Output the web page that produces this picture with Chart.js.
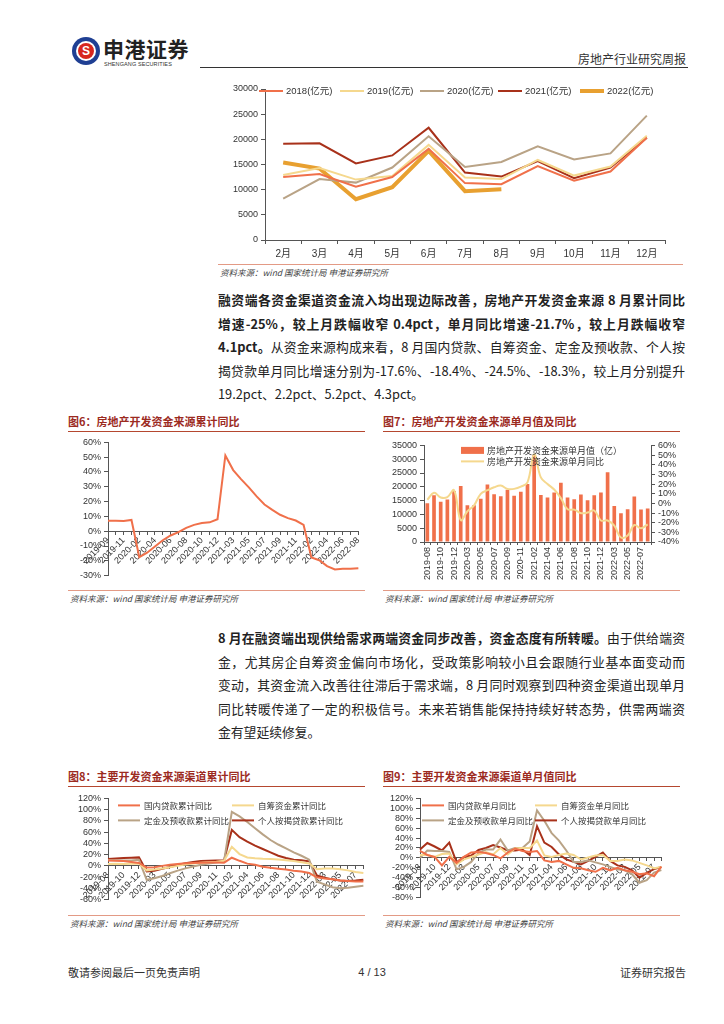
<!DOCTYPE html>
<html><head><meta charset="utf-8">
<script src="https://cdn.jsdelivr.net/npm/chart.js@4/dist/chart.umd.min.js"></script>
<style>
body{margin:0;width:724px;height:1024px;background:#fff;position:relative;overflow:hidden;font-family:"Noto Sans CJK SC",sans-serif;color:#222}
.a{position:absolute}
canvas{position:absolute}
.para{position:absolute;left:218px;width:467px}
.para div{height:23.5px;line-height:23.5px;font-size:12.8px;text-align:justify;text-align-last:justify}
.para div.last{text-align-last:left}
.ftitle{position:absolute;font-size:11px;font-weight:bold;color:#9c2b1f;line-height:14px}
.uline{position:absolute;height:0;border-top:1.5px solid #b5472f}
.srcl{position:absolute;height:0;border-top:1px solid #e39a85}
.src{position:absolute;font-size:8.5px;font-style:italic;color:#444;line-height:10px}
</style></head>
<body>
<!-- header -->
<div class="a" style="left:72px;top:37px;width:28px;height:28px;border-radius:50%;background:#1f3f93"></div>
<div class="a" style="left:76px;top:41px;width:20px;height:20px;border-radius:50%;background:#fff"></div>
<div class="a" style="left:78px;top:43px;width:16px;height:16px;border-radius:50%;background:#d7261e;color:#fff;font:bold 12px/16px Arial,sans-serif;text-align:center">S</div>
<div class="a" style="left:103px;top:35px;font-size:21px;font-weight:bold;color:#222;line-height:26px;letter-spacing:0.5px">申港证券</div>
<div class="a" style="left:104px;top:61px;font:5.5px/7px Arial,sans-serif;color:#333;letter-spacing:0.1px">SHENGANG SECURITIES</div>
<div class="a" style="right:38px;top:51px;font-size:12px;line-height:16px;color:#333">房地产行业研究周报</div>
<div class="a" style="left:200px;top:67px;width:488px;border-top:1px solid #333"></div>

<canvas id="c0" width="470" height="182" style="left:215px;top:80px"></canvas>
<div class="srcl" style="left:218px;top:264px;width:465px"></div>
<div class="src" style="left:220px;top:267px">资料来源：wind 国家统计局 申港证券研究所</div>

<div class="para" style="top:288px">
<div><b>融资端各资金渠道资金流入均出现边际改善，房地产开发资金来源 8 月累计同比</b></div>
<div><b>增速-25%，较上月跌幅收窄 0.4pct，单月同比增速-21.7%，较上月跌幅收窄</b></div>
<div><b>4.1pct。</b>从资金来源构成来看，8 月国内贷款、自筹资金、定金及预收款、个人按</div>
<div>揭贷款单月同比增速分别为-17.6%、-18.4%、-24.5%、-18.3%，较上月分别提升</div>
<div class="last">19.2pct、2.2pct、5.2pct、4.3pct。</div>
</div>

<div class="ftitle" style="left:68px;top:414px">图6：房地产开发资金来源累计同比</div>
<div class="uline" style="left:68px;top:431px;width:297px"></div>
<div class="ftitle" style="left:383px;top:414px">图7：房地产开发资金来源单月值及同比</div>
<div class="uline" style="left:383px;top:431px;width:297px"></div>
<canvas id="c6" width="305" height="150" style="left:62px;top:434px"></canvas>
<canvas id="c7" width="305" height="147" style="left:378px;top:437px"></canvas>
<div class="srcl" style="left:68px;top:590px;width:297px"></div>
<div class="src" style="left:70px;top:593px">资料来源：wind 国家统计局 申港证券研究所</div>
<div class="srcl" style="left:383px;top:590px;width:297px"></div>
<div class="src" style="left:385px;top:593px">资料来源：wind 国家统计局 申港证券研究所</div>

<div class="para" style="top:626px">
<div><b>8 月在融资端出现供给需求两端资金同步改善，资金态度有所转暖。</b>由于供给端资</div>
<div>金，尤其房企自筹资金偏向市场化，受政策影响较小且会跟随行业基本面变动而</div>
<div>变动，其资金流入改善往往滞后于需求端，8 月同时观察到四种资金渠道出现单月</div>
<div>同比转暖传递了一定的积极信号。未来若销售能保持持续好转态势，供需两端资</div>
<div class="last">金有望延续修复。</div>
</div>

<div class="ftitle" style="left:68px;top:769px">图8：主要开发资金来源渠道累计同比</div>
<div class="uline" style="left:68px;top:786px;width:297px"></div>
<div class="ftitle" style="left:383px;top:769px">图9：主要开发资金来源渠道单月值同比</div>
<div class="uline" style="left:383px;top:786px;width:297px"></div>
<canvas id="c8" width="310" height="118" style="left:62px;top:790px"></canvas>
<canvas id="c9" width="292" height="116" style="left:378px;top:790px"></canvas>
<div class="srcl" style="left:68px;top:915px;width:297px"></div>
<div class="src" style="left:70px;top:918px">资料来源：wind 国家统计局 申港证券研究所</div>
<div class="srcl" style="left:383px;top:915px;width:297px"></div>
<div class="src" style="left:385px;top:918px">资料来源：wind 国家统计局 申港证券研究所</div>

<!-- footer -->
<div class="a" style="left:68px;top:964px;font-size:11px;line-height:16px;color:#333">敬请参阅最后一页免责声明</div>
<div class="a" style="left:352px;top:964px;width:40px;text-align:center;font:11px/16px Arial,'Liberation Sans',sans-serif;color:#333">4 / 13</div>
<div class="a" style="right:38px;top:964px;font-size:11px;line-height:16px;color:#333">证券研究报告</div>

<script>
// ---------------- data ----------------
const monthLabels = ['2月','3月','4月','5月','6月','7月','8月','9月','10月','11月','12月'];
const v2018 = [12500,13100,10600,12500,18100,11300,11100,14700,11800,13600,20300];
const v2019 = [12900,14300,12000,12700,18900,12400,12100,15900,12800,14600,20700];
const v2020 = [8200,12100,11400,14400,20600,14500,15500,18600,16000,17200,24700];
const v2021 = [19100,19200,15200,16800,22300,13400,12600,15700,12300,14400,20300];
const v2022 = [15400,14200,8100,10500,17700,9700,10100];

const cumMonths = ['2019-09','2019-10','2019-11','2019-12','2020-02','2020-03','2020-04','2020-05','2020-06','2020-07','2020-08','2020-09','2020-10','2020-11','2020-12','2021-02','2021-03','2021-04','2021-05','2021-06','2021-07','2021-08','2021-09','2021-10','2021-11','2021-12','2022-02','2022-03','2022-04','2022-05','2022-06','2022-07','2022-08'];
const cumYoY = [7.1,7.0,6.9,7.6,-17.5,-14.5,-10.3,-6.1,-2.9,-0.6,2.3,4.3,5.5,6.0,8.1,51.2,41.3,35.2,29.6,23.5,18.0,14.4,11.1,8.8,7.2,4.2,-17.7,-19.6,-23.6,-25.8,-25.3,-25.4,-25.0];

const mMonths = ['2019-08','2019-09','2019-10','2019-11','2019-12','2020-02','2020-03','2020-04','2020-05','2020-06','2020-07','2020-08','2020-09','2020-10','2020-11','2020-12','2021-02','2021-03','2021-04','2021-05','2021-06','2021-07','2021-08','2021-09','2021-10','2021-11','2021-12','2022-02','2022-03','2022-04','2022-05','2022-06','2022-07','2022-08'];
const monthValue = [14000,16900,14600,15400,18500,20300,13300,13300,15700,20800,17300,16600,18900,16800,18200,21000,31500,17000,16100,17900,21500,16100,15500,17200,15100,16900,17900,25300,13000,10400,11900,16500,11800,12100];
const monthYoY = [3.7,10.9,6.1,6.5,13.6,-17.3,-8.2,-2.0,9.9,13.6,16.7,18.4,15.0,15.0,17.3,21.8,50.7,26.9,20.1,14.3,5.4,-6.1,-6.5,-10.2,-9.5,-7.5,-17.7,-17.7,-23.1,-35.4,-33.3,-22.4,-25.8,-21.7];

const loanCum = [9.5,9.0,8.5,7.0,5.1,-3.0,-2.5,0.0,2.0,3.5,4.5,5.0,5.5,5.8,6.0,5.7,14.5,9.0,4.0,2.0,-1.5,-3.5,-5.0,-6.5,-8.5,-10.0,-12.7,-20.5,-22.5,-24.0,-26.0,-27.0,-28.0,-28.0];
const selfCum = [3.5,3.8,3.5,3.8,4.0,-8.0,-6.5,-4.5,-2.5,0.0,2.5,4.0,5.5,6.5,7.5,9.0,34.0,21.0,15.0,13.5,12.5,12.0,11.5,10.0,8.5,6.5,4.2,-6.0,-4.5,-4.5,-6.0,-8.0,-11.0,-12.5];
const depositCum = [10.5,10.0,9.5,9.5,10.7,-24.8,-22.0,-18.0,-13.0,-8.5,-4.5,-1.0,2.0,4.0,6.0,8.5,96.0,88.0,78.0,67.0,56.0,46.0,38.0,31.0,24.0,18.0,11.0,-28.0,-33.0,-38.0,-40.0,-39.0,-37.0,-35.5];
const mortgageCum = [12.0,13.0,14.0,14.5,15.1,-10.0,-8.5,-5.0,-2.0,1.5,4.5,7.0,8.5,9.0,9.5,9.9,64.0,51.0,43.0,36.0,30.0,24.0,18.0,14.0,11.0,10.0,8.0,-17.0,-21.0,-24.0,-26.0,-27.0,-26.0,-24.5];

const loanM = [14,6,2,-15,2,-10,2,11,12,10,6,-1,11,19,14,12,14,-5,-8,-6,-13,-20,-21,-25,-28,-20,-25,-20,-25,-28,-33,-31,-36.8,-17.6];
const selfM = [6,6,2,8,9,-13,-3,2,7,12,7,20,7,19,20,20,35,5,2,6,9,6,-3,1,5,6,-6,-6,-3,-5,-10,-15,-20.6,-18.4];
const depositM = [0,15,14,14,12,-23,-18,-8,10,17,17,37,15,20,20,33,96,75,50,35,15,-8,-8,-5,-9,-13,-18,-23,-25,-33,-50,-45,-29.7,-24.5];
const mortgageM = [17,30,23,15,31,-9,2,5,16,20,26,21,15,15,17,6,64,31,22,7,-3,-8,-13,-6,2,11,-6,-15,-18,-25,-40,-30,-22.6,-18.3];

// ---------------- style ----------------
const C_SALMON = '#f0704a', C_YELLOW = '#f5d88e', C_TAUPE = '#b9a386', C_DARK = '#a8311a', C_ORANGE = '#e8a030';
const FONT = "Arial, 'Liberation Sans', 'Noto Sans CJK SC', sans-serif";
const AX = '#555';
Chart.defaults.font.family = FONT;
Chart.defaults.font.size = 9;
Chart.defaults.color = '#333';
Chart.defaults.animation = false;
Chart.defaults.responsive = false;
Chart.defaults.devicePixelRatio = 1;
Chart.defaults.plugins.legend.display = false;
Chart.defaults.plugins.tooltip.enabled = false;
Chart.defaults.elements.point.radius = 0;
Chart.defaults.elements.point.hoverRadius = 0;

const inLegend = {
  id: 'inlegend',
  afterDraw(chart, args, o) {
    if (!o || !o.items) return;
    const {ctx, chartArea} = chart;
    ctx.save();
    ctx.font = o.font;
    ctx.textBaseline = 'middle';
    ctx.textAlign = 'left';
    o.items.forEach(it => {
      const ds = chart.data.datasets[it.ds];
      const x = chartArea.left + it.x, y = chartArea.top + it.y;
      if (ds.type === 'bar') {
        ctx.fillStyle = ds.backgroundColor;
        ctx.fillRect(x, y - 3.5, o.len, 7);
      } else {
        ctx.strokeStyle = ds.borderColor;
        ctx.lineWidth = ds.borderWidth;
        ctx.beginPath(); ctx.moveTo(x, y); ctx.lineTo(x + o.len, y); ctx.stroke();
      }
      ctx.fillStyle = '#333';
      ctx.fillText(ds.label, x + o.len + o.gap, y);
    });
    ctx.restore();
  }
};

function yScale(min, max, step, width, pct, position) {
  return {
    type: 'linear', position: position || 'left', min, max,
    ticks: {stepSize: step, autoSkip: false, padding: 3, callback: v => pct ? v + '%' : v},
    grid: {drawOnChartArea: false, drawTicks: true, tickLength: 4, color: AX},
    border: {display: true, color: AX},
    afterFit(s) { s.width = width; }
  };
}
function zeroX() {
  return {
    type: 'category', position: {y: 0},
    ticks: {autoSkip: false, maxRotation: 45, minRotation: 45, padding: 1,
      callback(v, i) { return i % 2 === 0 ? this.getLabelForValue(v) : ''; }},
    grid: {drawOnChartArea: false, drawTicks: true, tickLength: 3, color: AX},
    border: {display: true, color: AX}
  };
}
function line(label, data, color, w) {
  return {type: 'line', label, data, borderColor: color, backgroundColor: color, borderWidth: w || 2, tension: 0, fill: false};
}

// ---------------- chart 0 ----------------
new Chart(document.getElementById('c0'), {
  type: 'line',
  data: {labels: monthLabels, datasets: [
    line('2018(亿元)', v2018, C_SALMON, 2),
    line('2019(亿元)', v2019, C_YELLOW, 2),
    line('2020(亿元)', v2020, C_TAUPE, 2),
    line('2021(亿元)', v2021, C_DARK, 2),
    line('2022(亿元)', v2022, C_ORANGE, 4)
  ]},
  options: {
    layout: {padding: {top: 9, right: 20, left: 0, bottom: 0}},
    scales: {
      x: {type: 'category', offset: true,
        ticks: {font: {size: 10}, padding: 4, autoSkip: false, maxRotation: 0},
        grid: {offset: true, drawOnChartArea: false, drawTicks: true, tickLength: 4, color: AX},
        border: {color: AX},
        afterFit(s) { s.height = 22; }},
      y: yScale(0, 30000, 5000, 50, false)
    },
    plugins: {inlegend: {font: '9.5px ' + FONT, len: 24, gap: 3, items: [
      {ds: 0, x: -6, y: 2}, {ds: 1, x: 75, y: 2}, {ds: 2, x: 155, y: 2}, {ds: 3, x: 233, y: 2}, {ds: 4, x: 315, y: 2}
    ]}}
  },
  plugins: [inLegend]
});

// ---------------- chart 6 ----------------
new Chart(document.getElementById('c6'), {
  type: 'line',
  data: {labels: cumMonths, datasets: [line('房地产开发资金来源累计同比', cumYoY, C_SALMON, 2)]},
  options: {
    layout: {padding: {top: 7, right: 5, left: 0, bottom: 6}},
    scales: {x: zeroX(), y: yScale(-30, 60, 10, 46, true)}
  }
});

// ---------------- chart 7 ----------------
new Chart(document.getElementById('c7'), {
  type: 'bar',
  data: {labels: mMonths, datasets: [
    {type: 'bar', label: '房地产开发资金来源单月值（亿）', data: monthValue, backgroundColor: C_SALMON, yAxisID: 'y', barPercentage: 0.55, categoryPercentage: 1, order: 1},
    {type: 'line', label: '房地产开发资金来源单月同比', data: monthYoY, borderColor: C_YELLOW, backgroundColor: C_YELLOW, borderWidth: 2, tension: 0.4, yAxisID: 'y1', order: 0}
  ]},
  options: {
    layout: {padding: {top: 7, right: 0, left: 0, bottom: 2}},
    scales: {
      x: {type: 'category', position: 'bottom',
        ticks: {autoSkip: false, maxRotation: 90, minRotation: 90, padding: 2,
          callback(v, i) { return i % 2 === 0 ? this.getLabelForValue(v) : ''; }},
        grid: {drawOnChartArea: false, drawTicks: true, tickLength: 3, color: AX},
        border: {color: AX},
        afterFit(s) { s.height = 40; }},
      y: yScale(0, 35000, 5000, 46, false, 'left'),
      y1: yScale(-40, 60, 10, 32, true, 'right')
    },
    plugins: {inlegend: {font: "9px 'Noto Sans CJK SC', sans-serif", len: 23, gap: 3, items: [
      {ds: 0, x: 37, y: 5}, {ds: 1, x: 37, y: 16}
    ]}}
  },
  plugins: [inLegend]
});

// ---------------- chart 8 ----------------
new Chart(document.getElementById('c8'), {
  type: 'line',
  data: {labels: mMonths, datasets: [
    line('国内贷款累计同比', loanCum, C_SALMON, 2),
    line('自筹资金累计同比', selfCum, C_YELLOW, 2),
    line('定金及预收款累计同比', depositCum, C_TAUPE, 2),
    line('个人按揭贷款累计同比', mortgageCum, C_DARK, 2)
  ]},
  options: {
    layout: {padding: {top: 7, right: 5, left: 0, bottom: 6}},
    scales: {x: zeroX(), y: yScale(-60, 120, 20, 46, true)},
    plugins: {inlegend: {font: "8.5px 'Noto Sans CJK SC', sans-serif", len: 22, gap: 4, items: [
      {ds: 0, x: 10, y: 7}, {ds: 1, x: 124, y: 7}, {ds: 2, x: 10, y: 22}, {ds: 3, x: 124, y: 22}
    ]}}
  },
  plugins: [inLegend]
});

// ---------------- chart 9 ----------------
new Chart(document.getElementById('c9'), {
  type: 'line',
  data: {labels: mMonths, datasets: [
    line('国内贷款单月同比', loanM, C_SALMON, 2),
    line('自筹资金单月同比', selfM, C_YELLOW, 2),
    line('定金及预收款单月同比', depositM, C_TAUPE, 2),
    line('个人按揭贷款单月同比', mortgageM, C_DARK, 2)
  ]},
  options: {
    layout: {padding: {top: 7, right: 5, left: 0, bottom: 6}},
    scales: {x: zeroX(), y: yScale(-80, 120, 20, 42, true)},
    plugins: {inlegend: {font: "8.5px 'Noto Sans CJK SC', sans-serif", len: 22, gap: 4, items: [
      {ds: 0, x: 2, y: 7}, {ds: 1, x: 115, y: 7}, {ds: 2, x: 2, y: 22}, {ds: 3, x: 115, y: 22}
    ]}}
  },
  plugins: [inLegend]
});
</script>
</body></html>
